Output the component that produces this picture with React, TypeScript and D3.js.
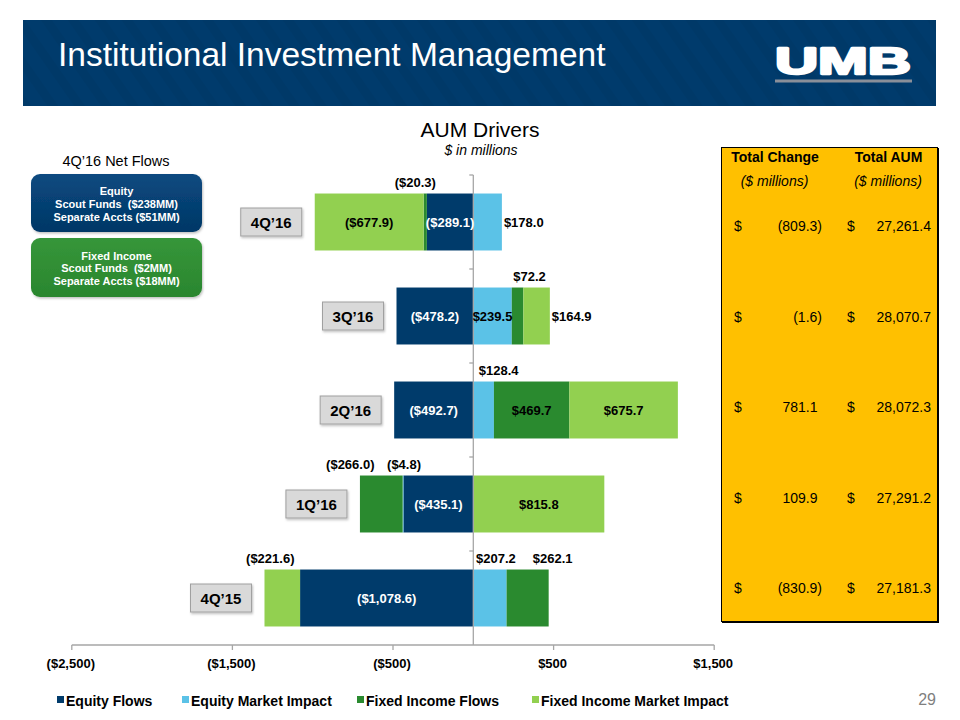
import React from "react";
import * as d3 from "d3";

const quarters = ["4Q\u201916", "3Q\u201916", "2Q\u201916", "1Q\u201916", "4Q\u201915"];
const seriesNames = ["Equity Flows", "Equity Market Impact", "Fixed Income Flows", "Fixed Income Market Impact"];
const equityFlows = [-289.1, -478.2, -492.7, -435.1, -1078.6];
const equityMarketImpact = [178.0, 239.5, 128.4, -4.8, 207.2];
const fixedIncomeFlows = [-20.3, 72.2, 469.7, -266.0, 262.1];
const fixedIncomeMarketImpact = [-677.9, 164.9, 675.7, 815.8, -221.6];
const totalChange = [-809.3, -1.6, 781.1, 109.9, -830.9];
const totalAUM = [27261.4, 28070.7, 28072.3, 27291.2, 27181.3];
const xTicks = [-2500, -1500, -500, 500, 1500];
const netFlowEquity = ["Equity", "Scout Funds\u00a0\u00a0($238MM)", "Separate Accts ($51MM)"];
const netFlowFixed = ["Fixed Income", "Scout Funds\u00a0\u00a0($2MM)", "Separate Accts ($18MM)"];

// label placement config (layout, not data)
const labelModes = [
  ["in", "in", "in", "in", "in"],
  ["right", "in", "up", "up", "up"],
  ["up", "up", "in", "up", "up"],
  ["in", "right", "in", "in", "up"],
];
const labelDx = [
  [0, 0, 0, 0, 0],
  [0, 0, 15, 1, 6],
  [-10, 12, 0, -31, 25],
  [0, 0, 0, 0, -12],
];

const colors = ["#003b6b", "#5bc2e7", "#2a8a2f", "#92d050"];

const fmt = d3.format(",.1f");
const money = (v: number) => (v < 0 ? `($${fmt(-v)})` : `$${fmt(v)}`);
const acct = (v: number) => (v < 0 ? `(${fmt(-v)})` : fmt(v));

export default function App() {
  const W = 960, H = 720;
  const x = d3.scaleLinear().domain([-2500, 1500]).range([71.8, 714.2]);
  const y = d3.scaleBand<string>().domain(quarters).range([175, 645]).paddingInner(0.394).paddingOuter(0.197);
  const rowY = d3.scalePoint<string>().domain(quarters).range([226, 588]);

  const table = quarters.map((q, i) => ({
    q,
    s0: equityFlows[i],
    s1: equityMarketImpact[i],
    s2: fixedIncomeFlows[i],
    s3: fixedIncomeMarketImpact[i],
  }));
  const keys = ["s0", "s1", "s2", "s3"];
  const stacked = d3.stack<any>().keys(keys).offset(d3.stackOffsetDiverging).order(d3.stackOrderNone)(table);
  const font = "'Liberation Sans', Arial, sans-serif";
  const axisColor = "#a6a6a6";

  const bars: any[] = [];
  const labels: any[] = [];
  stacked.forEach((layer, si) => {
    layer.forEach((d, qi) => {
      const q = quarters[qi];
      const x0 = x(Math.min(d[0], d[1]));
      const x1 = x(Math.max(d[0], d[1]));
      const yTop = y(q)!;
      const bw = y.bandwidth();
      bars.push(<rect key={`b${si}-${qi}`} x={x0} y={yTop} width={Math.max(0, x1 - x0)} height={bw} fill={colors[si]} />);
      const v = (d.data as any)[keys[si]] as number;
      const mode = labelModes[si][qi];
      const cx = (x0 + x1) / 2;
      let tx = cx, ty = yTop + bw / 2 + 4.5, anchor = "middle";
      let fill = si === 0 ? "#ffffff" : "#000000";
      if (mode === "up") {
        tx = cx + labelDx[si][qi];
        ty = yTop - 6.5;
        fill = "#000";
      } else if (mode === "right") {
        tx = x1 + 2;
        anchor = "start";
        fill = "#000";
      }
      labels.push(
        <text key={`l${si}-${qi}`} x={tx} y={ty} textAnchor={anchor} fill={fill} fontSize={13} fontWeight="bold" fontFamily={font}>
          {money(v)}
        </text>
      );
    });
  });

  const leftEnds = quarters.map((q, qi) => d3.min(stacked, (l) => x(Math.min(l[qi][0], l[qi][1])))!);

  return (
    <svg width={W} height={H} style={{ position: "absolute", left: 0, top: 0, background: "#fff" }} fontFamily={font}>
      <defs>
        <pattern id="stripes" width="22" height="22" patternUnits="userSpaceOnUse" patternTransform="rotate(-35)">
          <rect x="0" y="0" width="9" height="22" fill="rgba(0,0,0,0.035)" />
        </pattern>
        <linearGradient id="eqg" x1="0" y1="0" x2="0" y2="1">
          <stop offset="0" stopColor="#0a4a80" />
          <stop offset="1" stopColor="#023766" />
        </linearGradient>
        <linearGradient id="fig" x1="0" y1="0" x2="0" y2="1">
          <stop offset="0" stopColor="#36963a" />
          <stop offset="1" stopColor="#2a862e" />
        </linearGradient>
        <filter id="shadow" x="-10%" y="-10%" width="130%" height="140%">
          <feDropShadow dx="1" dy="1.5" stdDeviation="1" floodColor="#000" floodOpacity="0.25" />
        </filter>
      </defs>

      {/* Header */}
      <rect x={23} y={20} width={913} height={86} fill="#003b6c" />
      <rect x={23} y={20} width={913} height={86} fill="url(#stripes)" />
      <text x={58} y={66} fill="#fff" fontSize={33.5} fontFamily={font}>Institutional Investment Management</text>
      <text x={775} y={74} fill="#fff" stroke="#fff" strokeWidth={2.4} strokeLinejoin="round" fontSize={37} fontWeight="bold" textLength={136} lengthAdjust="spacingAndGlyphs" fontFamily={font}>UMB</text>
      <rect x={775} y={79.5} width={137} height={3} fill="#8a8f99" />

      {/* Titles */}
      <text x={480} y={137} textAnchor="middle" fontSize={21} fill="#000">AUM Drivers</text>
      <text x={481} y={155} textAnchor="middle" fontSize={14} fontStyle="italic" fill="#000">$ in millions</text>

      {/* Net flows boxes */}
      <text x={116} y={166} textAnchor="middle" fontSize={14.5} fill="#000">4Q’16 Net Flows</text>
      <rect x={31} y={174} width={171} height={58} rx={9} fill="url(#eqg)" filter="url(#shadow)" />
      {netFlowEquity.map((t, i) => (
        <text key={t} x={116.5} y={194.5 + i * 13.2} textAnchor="middle" fontSize={11} fontWeight="bold" fill="#fff">{t}</text>
      ))}
      <rect x={31} y={238} width={171} height={59} rx={9} fill="url(#fig)" filter="url(#shadow)" />
      {netFlowFixed.map((t, i) => (
        <text key={t} x={116.5} y={259.5 + i * 12.8} textAnchor="middle" fontSize={11} fontWeight="bold" fill="#fff">{t}</text>
      ))}

      {/* Bars */}
      {bars}

      {/* Axes */}
      <line x1={x(0)} x2={x(0)} y1={175} y2={645} stroke={axisColor} strokeWidth={1.3} />
      {quarters.map((q, i) => (
        <line key={`yt${i}`} x1={x(0) - 4} x2={x(0)} y1={y(q)! - (y.step() - y.bandwidth()) / 2} y2={y(q)! - (y.step() - y.bandwidth()) / 2} stroke={axisColor} strokeWidth={1.3} />
      ))}
      <line x1={x(-2500)} x2={x(1500)} y1={645} y2={645} stroke={axisColor} strokeWidth={1.3} />
      {xTicks.map((t) => (
        <g key={`xt${t}`}>
          <line x1={x(t)} x2={x(t)} y1={645} y2={650} stroke={axisColor} strokeWidth={1.3} />
          <text x={x(t) - 1} y={667.5} textAnchor="middle" fontSize={13} fontWeight="bold" fill="#000">{money(t).replace(".0", "")}</text>
        </g>
      ))}

      {/* Labels */}
      {labels}

      {/* Category boxes */}
      {quarters.map((q, i) => (
        <g key={`cb${i}`}>
          <rect x={leftEnds[i] - 13 - 61} y={y(q)! + y.bandwidth() / 2 - 14} width={61} height={28} fill="#d9d9d9" stroke="#a0a0a0" strokeWidth={1} filter="url(#shadow)" />
          <text x={leftEnds[i] - 13 - 30.5} y={y(q)! + y.bandwidth() / 2 + 5.5} textAnchor="middle" fontSize={15} fontWeight="bold" fill="#000">{q}</text>
        </g>
      ))}

      {/* Table */}
      <rect x={721.5} y={147.5} width={216} height={474} fill="#ffc000" stroke="#000" strokeWidth={1} />
      <line x1={938} x2={938} y1={148} y2={623} stroke="#000" strokeWidth={2} />
      <line x1={722} x2={939} y1={622} y2={622} stroke="#000" strokeWidth={2} />
      <text x={775} y={162} textAnchor="middle" fontSize={14} fontWeight="bold" fill="#000">Total Change</text>
      <text x={888.5} y={162} textAnchor="middle" fontSize={14} fontWeight="bold" fill="#000">Total AUM</text>
      <text x={774.5} y={186} textAnchor="middle" fontSize={14} fontStyle="italic" fill="#000">($ millions)</text>
      <text x={888} y={186} textAnchor="middle" fontSize={14} fontStyle="italic" fill="#000">($ millions)</text>
      {quarters.map((q, i) => (
        <g key={`tr${i}`} fontSize={14} fill="#000">
          <text x={734} y={rowY(q)! + 5}>$</text>
          <text x={totalChange[i] < 0 ? 822 : 817.5} y={rowY(q)! + 5} textAnchor="end">{acct(totalChange[i])}</text>
          <text x={847} y={rowY(q)! + 5}>$</text>
          <text x={931} y={rowY(q)! + 5} textAnchor="end">{acct(totalAUM[i])}</text>
        </g>
      ))}

      {/* Legend */}
      {seriesNames.map((n, i) => {
        const lx = [57, 182, 357, 532][i];
        return (
          <g key={`lg${i}`}>
            <rect x={lx} y={696} width={7} height={7} fill={colors[i]} />
            <text x={lx + 9} y={705.5} fontSize={14} fontWeight="bold" fill="#000">{n}</text>
          </g>
        );
      })}

      <text x={936} y={705} textAnchor="end" fontSize={16} fill="#7f7f7f">29</text>
    </svg>
  );
}
